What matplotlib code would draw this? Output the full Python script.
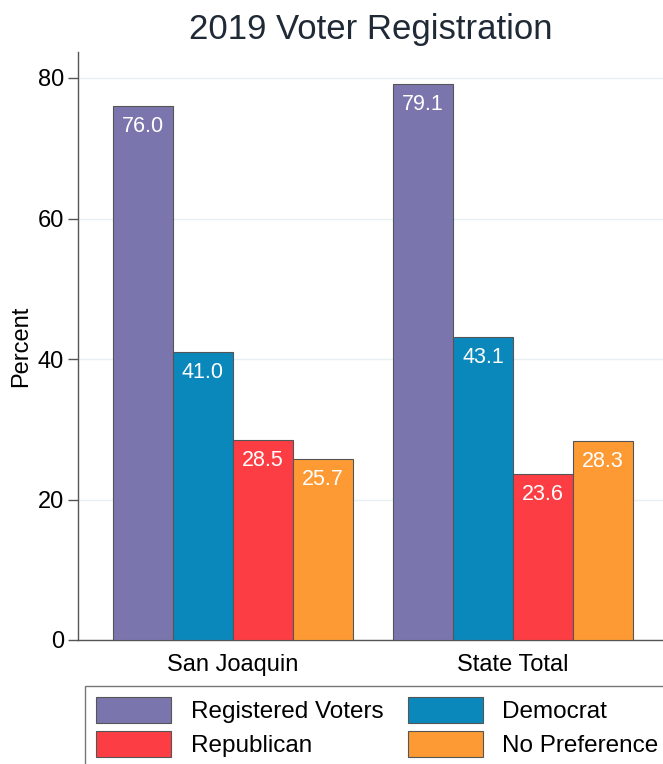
import matplotlib
matplotlib.use("Agg")
import matplotlib.pyplot as plt
import numpy as np

plt.rcParams['font.family'] = ['Liberation Sans', 'DejaVu Sans']

categories = ["San Joaquin", "State Total"]
series = ["Registered Voters", "Democrat", "Republican", "No Preference"]
registered = [76.0, 79.1]
democrat = [41.0, 43.1]
republican = [28.5, 23.6]
no_pref = [25.7, 28.3]
colors = ["#7b75ad", "#0a88bb", "#fd3d44", "#fd9a33"]
yticks = [0, 20, 40, 60, 80]

values = [registered, democrat, republican, no_pref]

fig = plt.figure(figsize=(6.63, 7.64), dpi=100)
ax = fig.add_axes([78/663, 124/764, 585/663, 588/764])

group_centers = np.array([0.0, 280/60])
w = 1.0
handles = []
for i, (name, vals, c) in enumerate(zip(series, values, colors)):
    xs = group_centers + (i - 1.5) * w
    bars = ax.bar(xs, vals, width=w, color=c, edgecolor="#555555", linewidth=0.8,
                  label=name, zorder=3)
    handles.append(bars)
    for x, v in zip(xs, vals):
        ax.annotate(f"{v:.1f}", xy=(x, v), xytext=(0, -7), textcoords="offset points",
                    ha="center", va="top", color="white", fontsize=15.5, zorder=4)

ax.set_xlim((78-233)/60, (663-233)/60)
ax.set_ylim(0, (640-52)/(562/80))
ax.set_yticks(yticks)
ax.set_yticklabels([str(t) for t in yticks], fontsize=17)
ax.set_xticks(group_centers)
ax.set_xticklabels(categories, fontsize=17)
ax.tick_params(axis='x', length=0, pad=10)
ax.tick_params(axis='y', length=7, width=1, color="#555555", pad=3)
ax.grid(axis='y', color="#e6eff1", linewidth=1, zorder=0)
ax.set_axisbelow(True)
for s in ['top', 'right']:
    ax.spines[s].set_visible(False)
for s in ['left', 'bottom']:
    ax.spines[s].set_color("#555555")
    ax.spines[s].set_linewidth(1)
ax.set_ylabel("Percent", fontsize=17, labelpad=4)

fig.text(371/663, 1 - 29/764, "2019 Voter Registration", ha="center", va="center",
         fontsize=25, color="#1f2a36")

order = [0, 2, 1, 3]
leg = fig.legend([handles[k] for k in order], [series[k] for k in order],
                 loc="upper left", bbox_to_anchor=(85/663, 1 - 686/764), ncol=2,
                 fontsize=17.5, frameon=True, fancybox=False, edgecolor="#555555",
                 handlelength=3.1, handleheight=1.25, columnspacing=1.0,
                 handletextpad=0.8, labelspacing=0.35, borderpad=0.45,
                 borderaxespad=0)
leg.get_frame().set_linewidth(1)

fig.savefig("out.png", dpi=100)
